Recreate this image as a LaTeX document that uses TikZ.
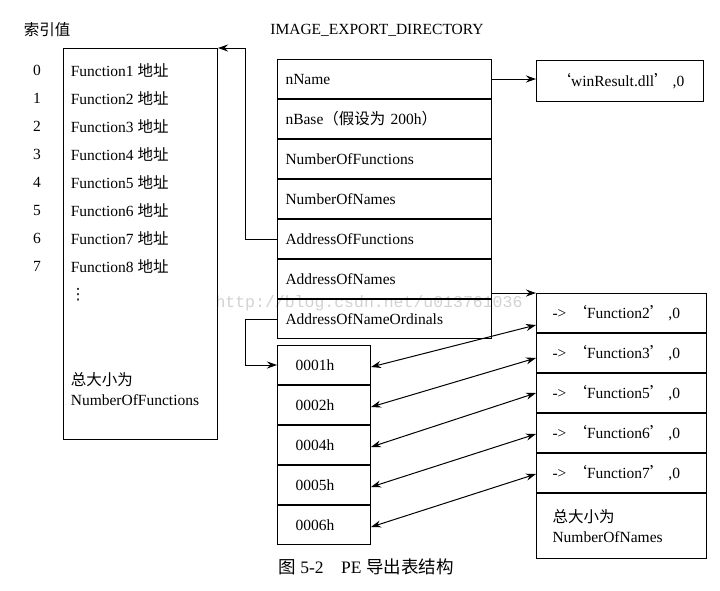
\documentclass[tikz,border=0pt]{standalone}
\usepackage{fontspec}
\setmainfont{Liberation Serif}
\newfontfamily\cjk{Noto Sans CJK SC}
\newfontfamily\wmfont{Liberation Mono}
\newfontfamily\symfont{DejaVu Sans}
\usetikzlibrary{positioning,arrows.meta,calc}
\newcommand{\ZH}[1]{{\cjk #1}}
\newcommand{\Q}[1]{\ZH{‘}#1\ZH{’}\hspace{3pt},0}

\begin{document}
\begin{tikzpicture}[x=1pt, y=-1pt, line width=1pt,
  every node/.style={font=\fontsize{15.5}{20}\selectfont},
  dirrow/.style={draw, anchor=north west, minimum height=39pt, text width=198pt, inner xsep=8pt, inner ysep=0pt, align=left},
  namerow/.style={draw, anchor=north west, minimum height=39pt, text width=138pt, inner xsep=16pt, inner ysep=0pt, align=left},
  ordrow/.style={draw, anchor=north west, minimum height=39pt, text width=57pt, inner xsep=18pt, inner ysep=0pt, align=left},
  arr/.style={-{Stealth[length=10pt,width=7pt]}},
  darr/.style={{Stealth[length=10pt,width=7pt]}-{Stealth[length=10pt,width=7pt]}}
]
  \useasboundingbox (0,0) rectangle (720,590);

  % watermark
  \node[text=gray!35, font=\wmfont\fontsize{16.5}{18}\selectfont] (wm) at (369,303) {http://blog.csdn.net/u013761036};

  % titles
  \node (idxtitle) at (47,30) {\ZH{索引值}};
  \node (dirtitle) at (377,30) {IMAGE\_EXPORT\_DIRECTORY};

  % function address array
  \node[draw, anchor=north west, minimum width=154pt, minimum height=391pt, inner sep=0pt] (funcs) at (63,48) {};
  \foreach \i in {0,...,7}{
    \pgfmathtruncatemacro\k{\i+1}
    \node (idx\i) at (37,70+28*\i) {\i};
    \node[anchor=west] (fn\i) at (67,70+28*\i) {Function\k\ \ZH{地址}};
  }
  \node (fdots) at (78,295) {\symfont ⋮};
  \node[anchor=west, align=left] (fsize) at (67,389) {\ZH{总大小为}\\NumberOfFunctions};

  % IMAGE_EXPORT_DIRECTORY
  \node[dirrow] (nName) at (277,59) {nName};
  \node[dirrow, below=0pt of nName] (nBase) {nBase\ZH{（假设为} 200h\ZH{）}};
  \node[dirrow, below=0pt of nBase] (nof) {NumberOfFunctions};
  \node[dirrow, below=0pt of nof] (non) {NumberOfNames};
  \node[dirrow, below=0pt of non] (aof) {AddressOfFunctions};
  \node[dirrow, below=0pt of aof] (aon) {AddressOfNames};
  \node[dirrow, below=0pt of aon] (aono) {AddressOfNameOrdinals};

  \node[draw, anchor=north west, minimum width=167pt, minimum height=41pt] (dll) at (536,60) {\Q{winResult.dll}};

  % name table
  \node[namerow] (nm1) at (536,293) {-> \Q{Function2}};
  \node[namerow, below=0pt of nm1] (nm2) {-> \Q{Function3}};
  \node[namerow, below=0pt of nm2] (nm3) {-> \Q{Function5}};
  \node[namerow, below=0pt of nm3] (nm4) {-> \Q{Function6}};
  \node[namerow, below=0pt of nm4] (nm5) {-> \Q{Function7}};
  \node[namerow, below=0pt of nm5, minimum height=65pt] (nmsize) {\ZH{总大小为}\\NumberOfNames};

  % ordinal table
  \node[ordrow] (od1) at (277,345) {0001h};
  \node[ordrow, below=0pt of od1] (od2) {0002h};
  \node[ordrow, below=0pt of od2] (od3) {0004h};
  \node[ordrow, below=0pt of od3] (od4) {0005h};
  \node[ordrow, below=0pt of od4] (od5) {0006h};

  % caption
  \node[font=\fontsize{17.5}{20}\selectfont] (caption) at (366,567) {\ZH{图} 5-2\quad PE \ZH{导出表结构}};

  % connectors
  \draw[arr] (nName.east) -- (nName.east -| dll.west);
  \draw[arr] (aof.west) -- ++(-32,0) |- (funcs.north east);
  \draw[arr] ($(aon.south east)+(0,-6)$) -- (nm1.north west);
  \draw[arr] (aono.west) -- ++(-32,0) |- (od1.west);
  \foreach \i/\d in {1/12,2/5,3/0,4/1,5/1}
    \draw[darr] ($(od\i.east)+(0,2)$) -- ($(nm\i.west)+(0,\d)$);
\end{tikzpicture}
\end{document}
